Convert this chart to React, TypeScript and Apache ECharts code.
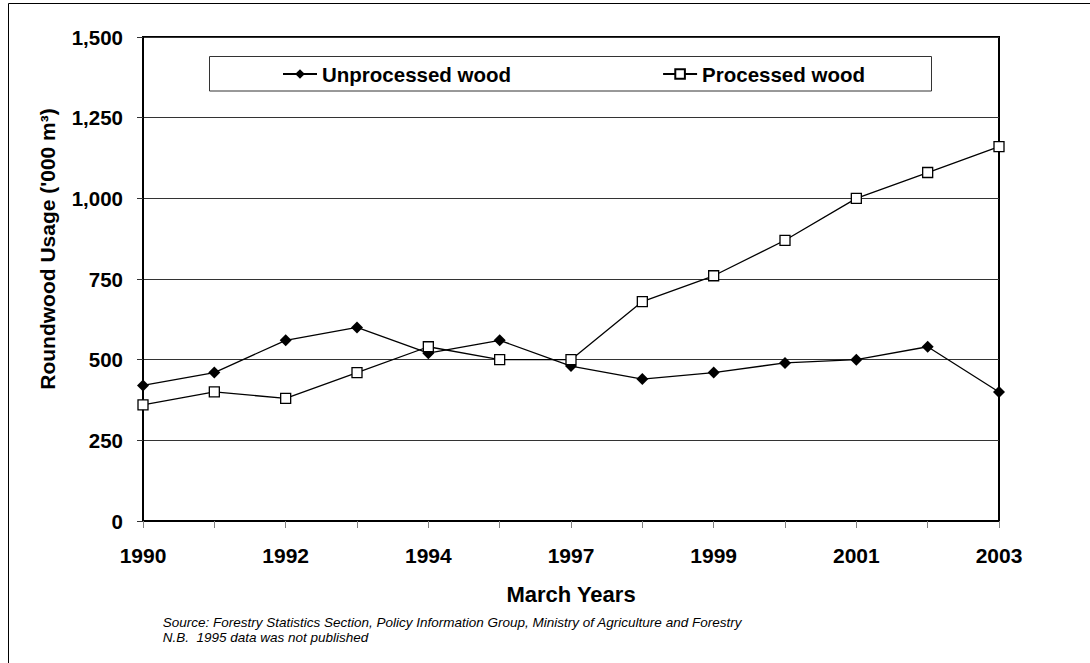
import { useEffect, useRef } from 'react';
import * as echarts from 'echarts';

const years = ['1990', '1991', '1992', '1993', '1994', '1996', '1997', '1998', '1999', '2000', '2001', '2002', '2003'];
const unprocessedWood = [420, 460, 560, 600, 520, 560, 480, 440, 460, 490, 500, 540, 400];
const processedWood = [360, 400, 380, 460, 540, 500, 500, 680, 760, 870, 1000, 1080, 1160];
const seriesNames = ['Unprocessed wood', 'Processed wood'];
const yMin = 0;
const yMax = 1500;
const yStep = 250;
const xTitle = 'March Years';
const yTitle = "Roundwood Usage ('000 m³)";
const sourceLines = [
  'Source: Forestry Statistics Section, Policy Information Group, Ministry of Agriculture and Forestry',
  'N.B.  1995 data was not published',
];

const FONT = "'Liberation Sans', Arial, sans-serif";

export default function App() {
  const ref = useRef<HTMLDivElement>(null);
  useEffect(() => {
    const chart = echarts.init(ref.current!, null, { renderer: 'svg' });
    chart.setOption({
      animation: false,
      backgroundColor: '#fff',
      grid: {
        left: 143, top: 37, right: 91, bottom: 142,
        show: true, borderColor: '#000', borderWidth: 2, backgroundColor: 'transparent',
      },
      legend: {
        data: seriesNames,
        left: 282, top: 63, padding: 0,
        itemWidth: 34, itemHeight: 12, itemGap: 151,
        textStyle: { fontFamily: FONT, fontSize: 20.5, fontWeight: 'bold', color: '#000', lineHeight: 22 },
      },
      xAxis: {
        type: 'category',
        data: years,
        boundaryGap: false,
        axisLine: { lineStyle: { color: '#000', width: 2 } },
        axisTick: { show: true, interval: 0, length: 7, lineStyle: { color: '#808080' } },
        axisLabel: { interval: 1, margin: 24, fontFamily: FONT, fontSize: 21, fontWeight: 'bold', color: '#000' },
        splitLine: { show: false },
      },
      yAxis: {
        type: 'value',
        min: yMin, max: yMax, interval: yStep,
        axisLine: { show: true, lineStyle: { color: '#000', width: 2 } },
        axisTick: { show: true, length: 6, lineStyle: { color: '#333' } },
        axisLabel: {
          margin: 20, fontFamily: FONT, fontSize: 20.5, fontWeight: 'bold', color: '#000',
          formatter: (v: number) => v.toLocaleString('en-US'),
        },
        splitLine: { show: true, lineStyle: { color: '#333', width: 1 } },
      },
      series: [
        {
          name: seriesNames[0],
          type: 'line',
          data: unprocessedWood,
          symbol: 'diamond',
          symbolSize: 12,
          itemStyle: { color: '#000' },
          lineStyle: { color: '#000', width: 1.3 },
        },
        {
          name: seriesNames[1],
          type: 'line',
          data: processedWood,
          symbol: 'rect',
          symbolSize: 10,
          itemStyle: { color: '#fff', borderColor: '#000', borderWidth: 1.3 },
          lineStyle: { color: '#000', width: 1.3 },
        },
      ],
      graphic: [
        {
          type: 'rect', z: -10, silent: true,
          shape: { x: 8.5, y: 3.5, width: 1200, height: 800 },
          style: { fill: 'none', stroke: '#000', lineWidth: 1 },
        },
        {
          type: 'rect', z: 1, silent: true,
          shape: { x: 209.5, y: 56.5, width: 722, height: 34.5 },
          style: { fill: '#fff', stroke: '#333', lineWidth: 1 },
        },
        {
          type: 'text', x: 47.5, y: 249, rotation: Math.PI / 2,
          style: {
            text: yTitle, fontFamily: FONT, fontSize: 21, fontWeight: 'bold', fill: '#000',
            align: 'center', verticalAlign: 'middle', textAlign: 'center', textVerticalAlign: 'middle',
          },
        },
        {
          type: 'text', x: 571, y: 594.5,
          style: {
            text: xTitle, fontFamily: FONT, fontSize: 22, fontWeight: 'bold', fill: '#000',
            align: 'center', verticalAlign: 'middle', textAlign: 'center', textVerticalAlign: 'middle',
          },
        },
        {
          type: 'text', x: 162.7, y: 622,
          style: {
            text: sourceLines[0], fontFamily: FONT, fontSize: 13.5, fontStyle: 'italic', fill: '#000',
            align: 'left', verticalAlign: 'middle', textAlign: 'left', textVerticalAlign: 'middle',
          },
        },
        {
          type: 'text', x: 162.7, y: 637.6,
          style: {
            text: sourceLines[1], fontFamily: FONT, fontSize: 13.5, fontStyle: 'italic', fill: '#000',
            align: 'left', verticalAlign: 'middle', textAlign: 'left', textVerticalAlign: 'middle',
          },
        },
      ],
    });
    return () => chart.dispose();
  }, []);
  return <div ref={ref} style={{ position: 'fixed', left: 0, top: 0, width: 1090, height: 663 }} />;
}
